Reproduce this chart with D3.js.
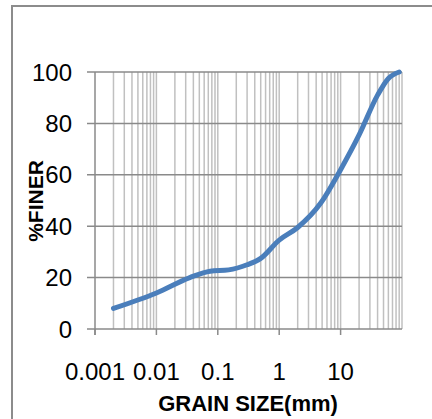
<!DOCTYPE html>
<html>
<head>
<meta charset="utf-8">
<script src="https://cdn.jsdelivr.net/npm/d3@7"></script>
<style>
    body { margin: 0; background: #fff; }
    svg { display: block; }
</style>
</head>
<body>
<div id="container"></div>
<script>
// grain size (mm) and percent finer
var grain_size = [0.002, 0.01, 0.035, 0.075, 0.15, 0.3, 0.5, 1, 2, 4.75, 10, 20, 40, 60, 90]
var percent_finer = [8, 14, 20, 22.5, 23, 25, 27.5, 34.6, 39.5, 49, 62, 75.5, 91, 97.5, 100]
var x_ticks = [0.001, 0.01, 0.1, 1, 10]
var x_tick_labels = ["0.001", "0.01", "0.1", "1", "10"]
var y_ticks = [0, 20, 40, 60, 80, 100]

draw_chart()

function draw_chart() {
    const width = 432;
    const height = 419;
    const marginTop = 72;
    const marginRight = 30;
    const marginBottom = 90;
    const marginLeft = 95;
    const font = "'Liberation Sans', Arial, sans-serif";

    const x = d3.scaleLog()
        .domain([0.001, 100])
        .range([marginLeft, width - marginRight]);

    const y = d3.scaleLinear()
        .domain([0, 100])
        .range([height - marginBottom, marginTop]);

    const svg = d3.create("svg")
        .attr("width", width)
        .attr("height", height);

    svg.append("rect")
        .attr("width", width)
        .attr("height", height)
        .attr("fill", "#fff");

    // outer chart frame, runs off the right and bottom
    svg.append("rect")
        .attr("x", 12)
        .attr("y", 6)
        .attr("width", 500)
        .attr("height", 500)
        .attr("fill", "none")
        .attr("stroke", "#8c8c8c")
        .attr("stroke-width", 2);

    // vertical gridlines at every log step
    var minor = []
    for(let p = -3; p < 2; p++) {
        for(let m = 1; m <= 9; m++) {
            minor.push(m * Math.pow(10, p))
        }
    }
    minor.push(100)
    svg.append("g")
        .selectAll("line")
        .data(minor.filter(d => d > 0.001))
        .enter()
        .append("line")
        .attr("x1", d => x(d))
        .attr("x2", d => x(d))
        .attr("y1", y(100))
        .attr("y2", y(0))
        .attr("stroke", "#c0c0c0")
        .attr("stroke-width", 1.5);

    // horizontal gridlines with outside ticks
    svg.append("g")
        .selectAll("line")
        .data(y_ticks)
        .enter()
        .append("line")
        .attr("x1", marginLeft - 8)
        .attr("x2", width - marginRight)
        .attr("y1", d => y(d))
        .attr("y2", d => y(d))
        .attr("stroke", "#8a8a8a")
        .attr("stroke-width", 1.5);

    // y axis line
    svg.append("line")
        .attr("x1", marginLeft)
        .attr("x2", marginLeft)
        .attr("y1", y(100))
        .attr("y2", y(0) + 6)
        .attr("stroke", "#8a8a8a")
        .attr("stroke-width", 1.5);

    // x axis ticks at each decade
    svg.append("g")
        .selectAll("line")
        .data(x_ticks)
        .enter()
        .append("line")
        .attr("x1", d => x(d))
        .attr("x2", d => x(d))
        .attr("y1", y(0))
        .attr("y2", y(0) + 6)
        .attr("stroke", "#8a8a8a")
        .attr("stroke-width", 1.5);

    svg.append("g")
        .selectAll("text")
        .data(y_ticks)
        .enter()
        .append("text")
        .attr("x", 72)
        .attr("y", d => y(d))
        .attr("dy", "0.36em")
        .attr("text-anchor", "end")
        .style("font-family", font)
        .style("font-size", "24px")
        .attr("fill", "#000")
        .text(d => d);

    svg.append("g")
        .selectAll("text")
        .data(x_ticks)
        .enter()
        .append("text")
        .attr("x", d => x(d))
        .attr("y", 380)
        .attr("text-anchor", "middle")
        .style("font-family", font)
        .style("font-size", "24px")
        .attr("fill", "#000")
        .text((d, i) => x_tick_labels[i]);

    // the curve
    const line = d3.line()
        .x(d => x(d[0]))
        .y(d => y(d[1]))
        .curve(d3.curveMonotoneX);

    svg.append("path")
        .datum(grain_size.map((d, i) => [d, percent_finer[i]]))
        .attr("d", line)
        .attr("fill", "none")
        .attr("stroke", "#4a7ebb")
        .attr("stroke-width", 5)
        .attr("stroke-linecap", "round")
        .attr("stroke-linejoin", "round");

    // axis titles
    svg.append("text")
        .attr("x", 248)
        .attr("y", 411)
        .attr("text-anchor", "middle")
        .style("font-family", font)
        .style("font-size", "22px")
        .style("font-weight", "bold")
        .text("GRAIN SIZE(mm)");

    svg.append("text")
        .attr("transform", "translate(43,201) rotate(-90)")
        .attr("text-anchor", "middle")
        .style("font-family", font)
        .style("font-size", "21px")
        .style("font-weight", "bold")
        .text("%FINER");

    container.append(svg.node());
}
</script>
</body>
</html>
